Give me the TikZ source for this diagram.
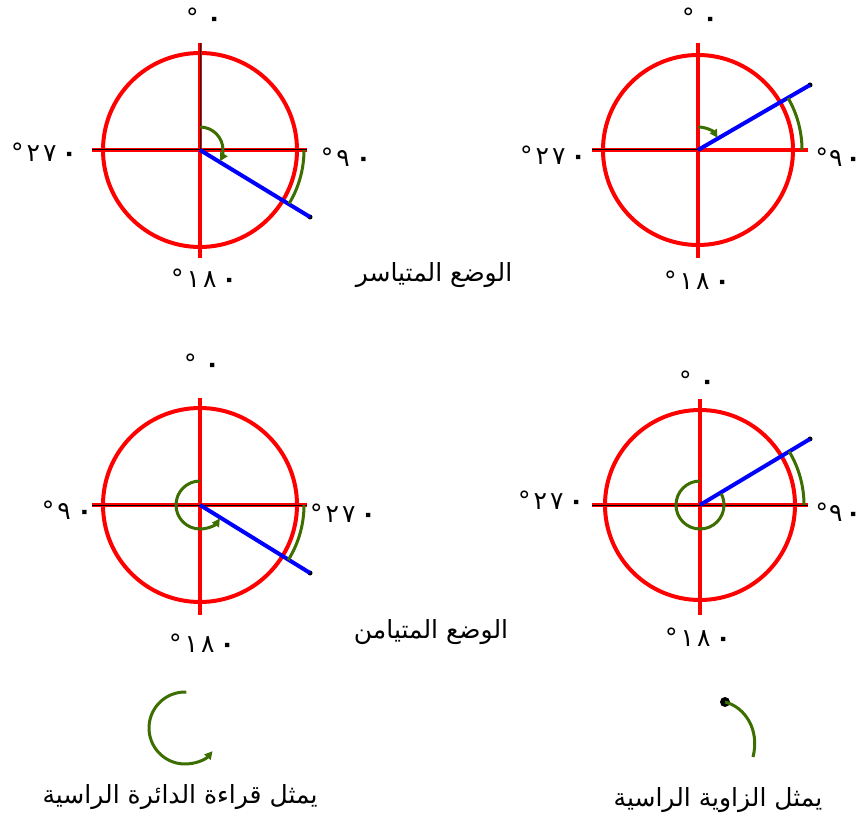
\documentclass[tikz,border=0pt]{standalone}
\usepackage{fontspec}
\usetikzlibrary{arrows.meta}
\TeXXeTstate=1
\newfontfamily\arabicfont[Script=Arabic]{DejaVu Sans}
\newfontfamily\digitfont{DejaVu Sans}
\definecolor{dgreen}{RGB}{60,110,0}
\newcommand\digsize{\digitfont\fontsize{25}{27}\selectfont}
\newcommand\dlab[3]{{\digsize °\hspace{3pt}#1\hspace{3pt}#2\hspace{5pt}{\bfseries #3}}}
\newcommand\zlab{{\digsize °\hspace{8pt}{\bfseries ٠}}}
\newcommand\nlab{{\digsize °\hspace{3pt}٩\hspace{6pt}{\bfseries ٠}}}
\newcommand\nlabr{{\digsize °\hspace{1pt}٩\hspace{3pt}{\bfseries ٠}}}
\begin{document}
\begin{tikzpicture}[x=1pt,y=-1pt,
  redcirc/.style={draw=red,line width=4pt},
  axisline/.style={draw=red,line width=3.5pt},
  blackcore/.style={draw=black,line width=1pt},
  blueline/.style={draw=blue,line width=4pt},
  garc/.style={draw=dgreen,line width=3pt},
  garrow/.style={draw=dgreen,line width=3pt,-{Triangle[length=8pt,width=8pt]}},
  enddot/.style={circle,fill=black,inner sep=0pt,minimum size=5pt},
  lab/.style={inner sep=0pt},
  artext/.style={inner sep=0pt,font=\arabicfont\fontsize{25}{28}\selectfont}]
\useasboundingbox (0,0) rectangle (863,818);
\fill[white] (0,0) rectangle (863,818);

% ---------- top-left ----------
\coordinate (c1) at (200,150);
\coordinate (c1n) at (200,43); \coordinate (c1s) at (200,258);
\coordinate (c1w) at (92,150); \coordinate (c1e) at (307,150);
\draw[redcirc] (c1) circle[radius=97];
\draw[axisline] (c1n) -- (c1s);
\draw[axisline] (c1w) -- (c1e);
\draw[blackcore] (c1w) -- (c1e);
\draw[blackcore] (c1n) -- (c1);
\node[enddot] (e1) at (310,217) {};
\draw[blueline] (c1) -- (e1.center);
\draw[garc] (c1) ++(0:104) arc[start angle=0,end angle=31,radius=104];
\draw[garrow] (c1) ++(-90:23) arc[start angle=-90,end angle=29,radius=23];
\node[lab] (l1a) at (204,17) {\zlab};
\node[lab] (l1b) at (44,152) {\dlab{٢}{٧}{٠}};
\node[lab] (l1c) at (346,157) {\nlab};
\node[lab] (l1d) at (204,278) {\dlab{١}{٨}{٠}};

% ---------- top-right ----------
\coordinate (c2) at (698,150);
\coordinate (c2n) at (698,43); \coordinate (c2s) at (698,258);
\coordinate (c2w) at (592,150); \coordinate (c2e) at (808,150);
\draw[redcirc] (c2) circle[radius=95];
\draw[axisline] (c2n) -- (c2s);
\draw[axisline] (c2w) -- (c2e);
\draw[blackcore] (c2w) -- (c2);
\node[enddot] (e2) at (810,85) {};
\draw[blueline] (c2) -- (e2.center);
\draw[garc] (c2) ++(-30:104) arc[start angle=-30,end angle=0,radius=104];
\draw[garrow] (c2) ++(-90:23) arc[start angle=-90,end angle=-32,radius=23];
\node[lab] (l2a) at (700,17) {\zlab};
\node[lab] (l2b) at (553,155) {\dlab{٢}{٧}{٠}};
\node[lab,anchor=east] (l2c) at (861,157) {\nlabr};
\node[lab] (l2d) at (697,280) {\dlab{١}{٨}{٠}};

% ---------- bottom-left ----------
\coordinate (c3) at (200,505);
\coordinate (c3n) at (200,398); \coordinate (c3s) at (200,615);
\coordinate (c3w) at (92,505); \coordinate (c3e) at (307,505);
\draw[redcirc] (c3) circle[radius=97];
\draw[axisline] (c3n) -- (c3s);
\draw[axisline] (c3w) -- (c3e);
\draw[blackcore] (c3w) -- (c3e);
\node[enddot] (e3) at (310,573) {};
\draw[blueline] (c3) -- (e3.center);
\draw[garc] (c3) ++(0:104) arc[start angle=0,end angle=32,radius=104];
\draw[garrow] (c3) ++(-90:24) arc[start angle=-90,end angle=-326,radius=24];
\node[lab] (l3a) at (202,363) {\zlab};
\node[lab] (l3b) at (67,510) {\nlab};
\node[lab] (l3c) at (343,513) {\dlab{٢}{٧}{٠}};
\node[lab] (l3d) at (202,643) {\dlab{١}{٨}{٠}};

% ---------- bottom-right ----------
\coordinate (c4) at (700,505);
\coordinate (c4n) at (700,399); \coordinate (c4s) at (700,615);
\coordinate (c4w) at (592,505); \coordinate (c4e) at (808,505);
\draw[redcirc] (c4) circle[radius=95];
\draw[axisline] (c4n) -- (c4s);
\draw[axisline] (c4w) -- (c4e);
\draw[blackcore] (c4w) -- (c4e);
\node[enddot] (e4) at (810,439) {};
\draw[blueline] (c4) -- (e4.center);
\draw[garc] (c4) ++(-31:104) arc[start angle=-31,end angle=0,radius=104];
\draw[garc] (c4) ++(-90:24) arc[start angle=-90,end angle=-388,radius=24];
\node[lab] (l4a) at (697,380) {\zlab};
\node[lab] (l4b) at (551,500) {\dlab{٢}{٧}{٠}};
\node[lab,anchor=east] (l4c) at (861,512) {\nlabr};
\node[lab] (l4d) at (698,637) {\dlab{١}{٨}{٠}};

% ---------- captions ----------
\node[artext] (cap1) at (434,275) {\beginR الوضع المتياسر\endR};
\node[artext] (cap2) at (431,632) {\beginR الوضع المتيامن\endR};

% ---------- legend ----------
\coordinate (g1) at (185,728);
\draw[garrow] (g1) ++(-88:36) arc[start angle=-88,end angle=-320,radius=36];
\node[artext] (leg1) at (180,797) {\beginR يمثل قراءة الدائرة الراسية\endR};

\node[circle,fill=black,inner sep=0pt,minimum size=10pt] (d2) at (725,702) {};
\coordinate (g2) at (753,757);
\draw[garc] (d2.center) .. controls (745,707) and (760,730) .. (g2);
\node[artext] (leg2) at (718,800) {\beginR يمثل الزاوية الراسية\endR};
\end{tikzpicture}
\end{document}
